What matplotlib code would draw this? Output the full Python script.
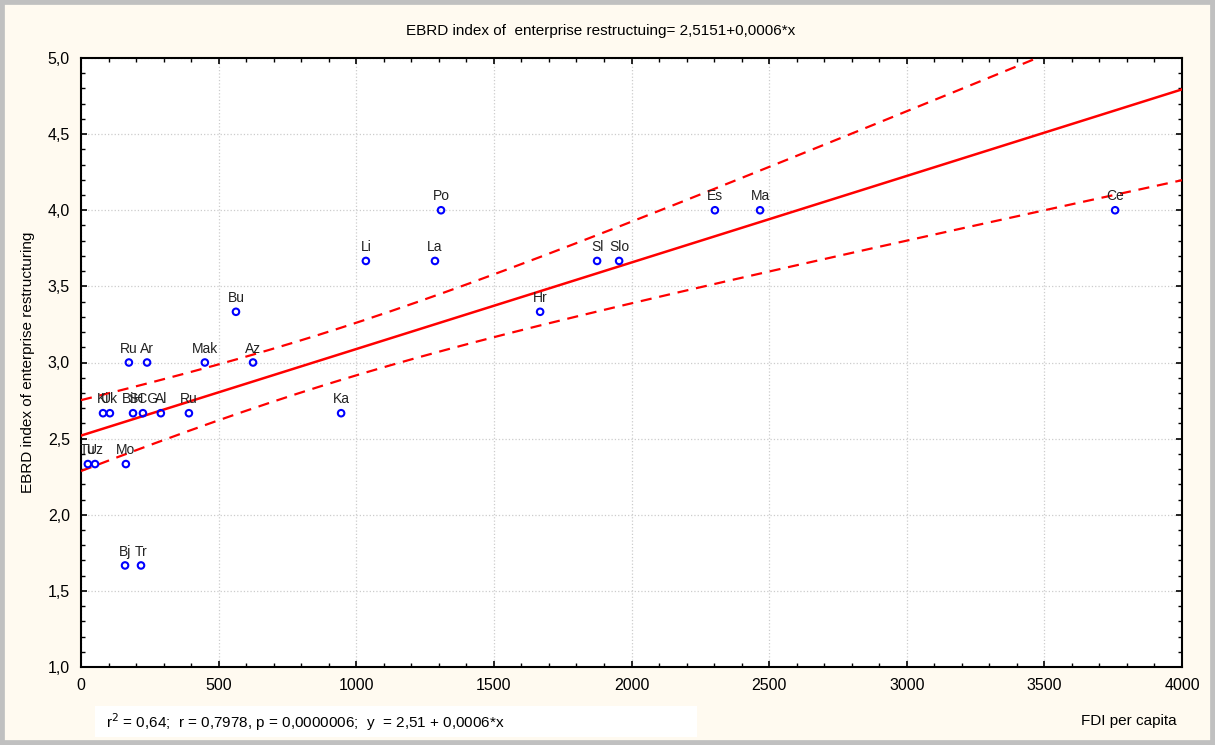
import numpy as np
import matplotlib
matplotlib.use("Agg")
import matplotlib.pyplot as plt
from matplotlib.ticker import MultipleLocator, FuncFormatter
from matplotlib.patches import Rectangle

# FDI per capita vs EBRD index of enterprise restructuring
countries = ["Tu", "Uz", "Mo", "Ki", "Uk", "BiH", "SCG", "Al", "Ru", "Ru", "Ar", "Mak", "Az",
             "Bu", "Ka", "Li", "La", "Po", "Hr", "Sl", "Slo", "Es", "Ma", "Ce", "Bj", "Tr"]
fdi = [25, 51, 163, 80, 105, 189, 225, 290, 392, 174, 240, 450, 625,
       563, 945, 1035, 1286, 1308, 1668, 1875, 1955, 2303, 2467, 3757, 160, 218]
ebrd = [2.333, 2.333, 2.333, 2.667, 2.667, 2.667, 2.667, 2.667, 2.667, 3.0, 3.0, 3.0, 3.0,
        3.333, 2.667, 3.667, 3.667, 4.0, 3.333, 3.667, 3.667, 4.0, 4.0, 4.0, 1.667, 1.667]

plt.rcParams['font.family'] = ['Liberation Sans', 'DejaVu Sans']

x = np.array(fdi, dtype=float)
y = np.array(ebrd, dtype=float)
n = len(x)
b, a = np.polyfit(x, y, 1)
resid = y - (a + b * x)
s = np.sqrt(np.sum(resid ** 2) / (n - 2))
sxx = np.sum((x - x.mean()) ** 2)
t = 2.064  # t(0.975, 24)

xs = np.linspace(0, 4000, 200)
ys = a + b * xs
half = t * s * np.sqrt(1.0 / n + (xs - x.mean()) ** 2 / sxx)

fig = plt.figure(figsize=(12.15, 7.45), dpi=100)
fig.patch.set_facecolor('#fffaf0')
fig.patches.append(Rectangle((0, 0), 1, 1, transform=fig.transFigure, fill=False,
                             edgecolor='#c0c0c0', linewidth=7, zorder=10))

ax = fig.add_axes([81 / 1215, 1 - 667 / 745, 1101 / 1215, 609 / 745])
ax.set_facecolor('white')

ax.plot(xs, ys, color='#ff0000', lw=1.8, zorder=3)
ax.plot(xs, ys + half, color='#ff0000', lw=1.6, ls=(0, (5, 3.5)), zorder=3)
ax.plot(xs, ys - half, color='#ff0000', lw=1.6, ls=(0, (5, 3.5)), zorder=3)

ax.scatter(x, y, s=22, facecolors='none', edgecolors='#0000ff', linewidths=1.5, zorder=4)
for xi, yi, lab in zip(x, y, countries):
    ax.annotate(lab, (xi, yi), xytext=(0, 5), textcoords='offset points',
                ha='center', va='bottom', fontsize=10, color='#222222', zorder=5)

ax.set_xlim(0, 4000)
ax.set_ylim(1.0, 5.0)
ax.xaxis.set_major_locator(MultipleLocator(500))
ax.xaxis.set_minor_locator(MultipleLocator(100))
ax.yaxis.set_major_locator(MultipleLocator(0.5))
ax.yaxis.set_minor_locator(MultipleLocator(0.1))
ax.yaxis.set_major_formatter(FuncFormatter(lambda v, p: f"{v:.1f}".replace('.', ',')))
ax.tick_params(which='both', direction='in', top=True, right=True, labelsize=11.5, pad=8)
ax.tick_params(which='major', length=4, width=1.2)
ax.tick_params(which='minor', length=3, width=1)
ax.grid(True, which='major', color='#cccccc', ls=':', lw=0.9)
ax.set_axisbelow(True)
for sp in ax.spines.values():
    sp.set_linewidth(1.5)
    sp.set_color('black')

fig.text(601 / 1215, 1 - 31 / 745, "EBRD index of  enterprise restructuing= 2,5151+0,0006*x",
         ha='center', va='center', fontsize=11)
fig.text(28 / 1215, 1 - 362 / 745, "EBRD index of enterprise restructuring", rotation=90,
         ha='center', va='center', fontsize=11)
fig.text(1177 / 1215, 1 - 721 / 745, "FDI per capita", ha='right', va='center', fontsize=11)

fig.patches.append(Rectangle((95 / 1215, 1 - 737 / 745), 602 / 1215, 31 / 745,
                             transform=fig.transFigure, facecolor='white', edgecolor='none'))
fig.text(106 / 1215, 1 - 722 / 745,
         r"r$^2$ = 0,64;  r = 0,7978, p = 0,0000006;  y  = 2,51 + 0,0006*x",
         ha='left', va='center', fontsize=11)

fig.savefig("out.png", dpi=100, facecolor=fig.get_facecolor())
